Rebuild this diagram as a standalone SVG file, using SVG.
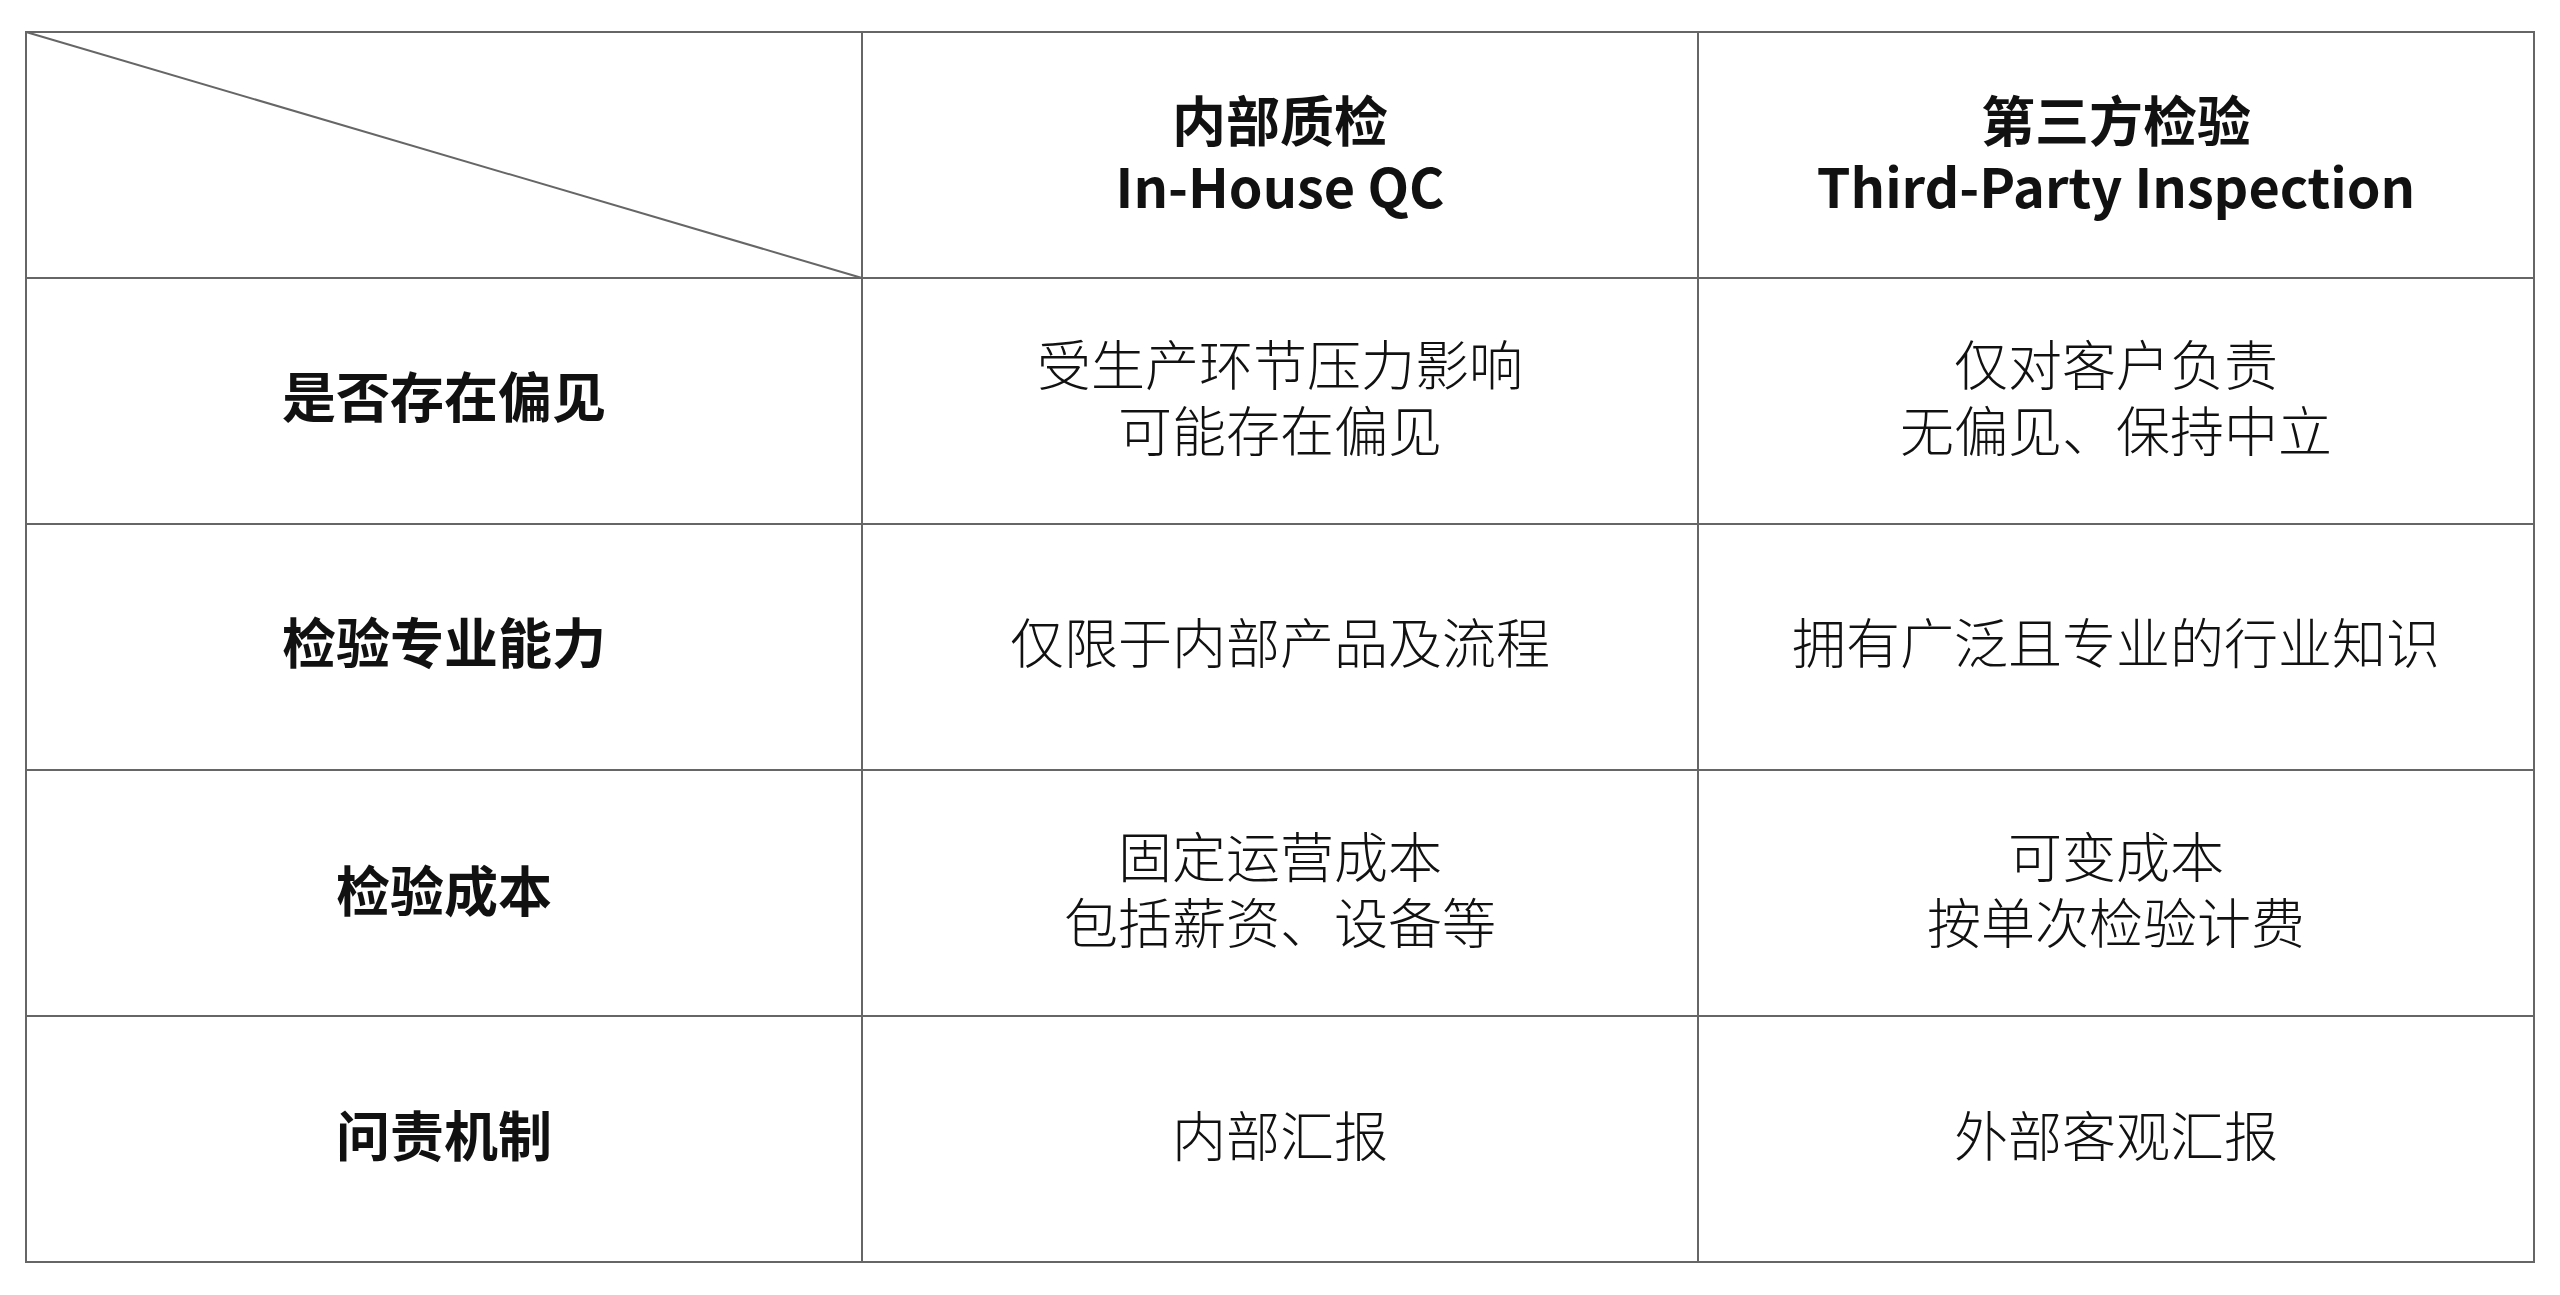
<svg xmlns="http://www.w3.org/2000/svg" width="2560" height="1295" viewBox="0 0 2560 1295">
<style>
.g{stroke:#666;stroke-width:2;fill:none}
.t{font-family:"Noto Sans CJK SC","Noto Sans",sans-serif;font-size:54px;text-anchor:middle;fill:#111;dominant-baseline:central}
.b{font-weight:700}
.l{font-weight:300}
</style>
<rect width="2560" height="1295" fill="#fff"/>
<g id="grid">
<rect class="g" x="26" y="32" width="2508" height="1230"/>
<line class="g" x1="26" y1="278" x2="2534" y2="278"/>
<line class="g" x1="26" y1="524" x2="2534" y2="524"/>
<line class="g" x1="26" y1="770" x2="2534" y2="770"/>
<line class="g" x1="26" y1="1016" x2="2534" y2="1016"/>
<line class="g" x1="862" y1="32" x2="862" y2="1262"/>
<line class="g" x1="1698" y1="32" x2="1698" y2="1262"/>
<line class="g" x1="26" y1="32" x2="862" y2="278" stroke-width="1.5"/>
</g>
<g id="header">
<text class="t b" x="1280" y="118">内部质检</text>
<text class="t b" x="1280" y="184">In-House QC</text>
<text class="t b" x="2116" y="118">第三方检验</text>
<text class="t b" x="2116" y="184">Third-Party Inspection</text>
</g>
<g id="row1">
<text class="t b" x="444" y="394">是否存在偏见</text>
<text class="t l" x="1280" y="362">受生产环节压力影响</text>
<text class="t l" x="1280" y="428">可能存在偏见</text>
<text class="t l" x="2116" y="362">仅对客户负责</text>
<text class="t l" x="2116" y="428">无偏见、保持中立</text>
</g>
<g id="row2">
<text class="t b" x="444" y="640">检验专业能力</text>
<text class="t l" x="1280" y="640">仅限于内部产品及流程</text>
<text class="t l" x="2116" y="640">拥有广泛且专业的行业知识</text>
</g>
<g id="row3">
<text class="t b" x="444" y="888">检验成本</text>
<text class="t l" x="1280" y="854">固定运营成本</text>
<text class="t l" x="1280" y="920">包括薪资、设备等</text>
<text class="t l" x="2116" y="854">可变成本</text>
<text class="t l" x="2116" y="920">按单次检验计费</text>
</g>
<g id="row4">
<text class="t b" x="444" y="1133">问责机制</text>
<text class="t l" x="1280" y="1133">内部汇报</text>
<text class="t l" x="2116" y="1133">外部客观汇报</text>
</g>
</svg>
